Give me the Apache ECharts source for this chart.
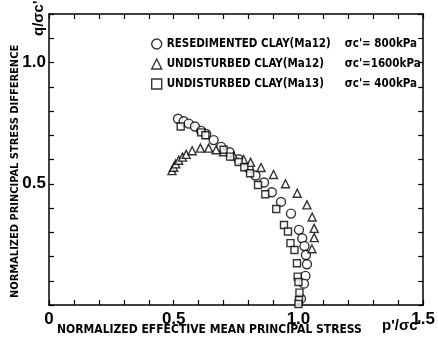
<!DOCTYPE html>
<html>
<head>
<meta charset="utf-8">
<script src="https://cdn.jsdelivr.net/npm/echarts@6/dist/echarts.min.js"></script>
<style>
  html, body { margin: 0; padding: 0; background: #fff; }
  #chart { width: 438px; height: 345px; }
</style>
</head>
<body>
<div id="chart"></div>
<script>
// resedimented clay (Ma12), 800kPa - circles
var resedX = [0.517, 0.540, 0.560, 0.585, 0.610, 0.630, 0.660, 0.690, 0.724, 0.760, 0.800, 0.828, 0.862, 0.893, 0.930, 0.970, 1.002, 1.015, 1.024, 1.030, 1.034, 1.028, 1.022, 1.010];
var resedY = [0.768, 0.758, 0.748, 0.736, 0.718, 0.705, 0.680, 0.652, 0.630, 0.601, 0.565, 0.534, 0.505, 0.465, 0.425, 0.377, 0.310, 0.275, 0.243, 0.206, 0.168, 0.120, 0.088, 0.026];
// undisturbed clay (Ma12), 1600kPa - triangles
var undis12X = [0.493, 0.500, 0.508, 0.520, 0.535, 0.550, 0.574, 0.607, 0.640, 0.670, 0.700, 0.740, 0.780, 0.808, 0.850, 0.900, 0.948, 0.995, 1.034, 1.055, 1.063, 1.063, 1.054];
var undis12Y = [0.554, 0.568, 0.582, 0.597, 0.610, 0.621, 0.636, 0.647, 0.647, 0.640, 0.632, 0.615, 0.600, 0.588, 0.567, 0.538, 0.500, 0.461, 0.413, 0.363, 0.316, 0.278, 0.232];
// undisturbed clay (Ma13), 400kPa - squares
var undis13X = [0.528, 0.610, 0.627, 0.700, 0.726, 0.760, 0.783, 0.806, 0.838, 0.867, 0.911, 0.942, 0.958, 0.968, 0.984, 0.994, 0.997, 1.000, 1.004, 1.002, 1.000];
var undis13Y = [0.736, 0.712, 0.700, 0.640, 0.612, 0.590, 0.568, 0.543, 0.495, 0.457, 0.396, 0.330, 0.303, 0.255, 0.227, 0.172, 0.117, 0.095, 0.051, 0.020, 0.004];

var seriesNames = ['RESEDIMENTED CLAY(Ma12)', 'UNDISTURBED CLAY(Ma12)', 'UNDISTURBED CLAY(Ma13)'];
var pressures = ["σc'= 800kPa", "σc'=1600kPa", "σc'= 400kPa"];

function pairs(xs, ys) {
  var out = [];
  for (var i = 0; i < xs.length; i++) out.push([xs[i], ys[i]]);
  return out;
}

var font = 'Liberation Sans, Arial, sans-serif';
var condensed = '"DejaVu Sans Condensed", "DejaVu Sans", sans-serif';

function axisBase(show) {
  return {
    type: 'value',
    min: 0,
    interval: 0.1,
    axisLine: { show: true, onZero: false, lineStyle: { color: '#000', width: 1.5 } },
    axisTick: { show: true, inside: true, length: 5, lineStyle: { color: '#000', width: 1.2 } },
    splitLine: { show: false },
    axisLabel: { show: show }
  };
}

var xBottom = axisBase(true);
xBottom.max = 1.5;
xBottom.position = 'bottom';
xBottom.axisLabel = {
  show: true, color: '#000', fontFamily: font, fontWeight: 'bold', fontSize: 17, margin: 6,
  formatter: function (v) {
    var r = Math.round(v * 10) / 10;
    if (r === 0) return '0';
    if (Math.abs(r * 2 - Math.round(r * 2)) < 1e-6) return r.toFixed(1);
    return '';
  }
};
var xTop = axisBase(false);
xTop.max = 1.5;
xTop.position = 'top';

var yLeft = axisBase(true);
yLeft.max = 1.2;
yLeft.position = 'left';
yLeft.axisLabel = {
  show: true, color: '#000', fontFamily: font, fontWeight: 'bold', fontSize: 17, margin: 3,
  formatter: function (v) {
    var r = Math.round(v * 10) / 10;
    if (r === 0.5 || r === 1) return r.toFixed(1);
    return '';
  }
};
var yRight = axisBase(false);
yRight.max = 1.2;
yRight.position = 'right';

var symbols = ['circle', 'triangle', 'rect'];
var sizes = [9, 8, 7];
var data = [pairs(resedX, resedY), pairs(undis12X, undis12Y), pairs(undis13X, undis13Y)];

var series = [];
for (var i = 0; i < 3; i++) {
  series.push({
    name: seriesNames[i],
    type: 'scatter',
    xAxisIndex: 0,
    yAxisIndex: 0,
    symbol: symbols[i],
    symbolSize: sizes[i],
    itemStyle: { color: '#fff', borderColor: '#000', borderWidth: 1.4 },
    data: data[i]
  });
}

var option = {
  backgroundColor: '#fff',
  animation: false,
  grid: { left: 49, right: 11, top: 14, bottom: 40 },
  xAxis: [xBottom, xTop],
  yAxis: [yLeft, yRight],
  legend: {
    orient: 'vertical',
    left: 146,
    top: 33,
    itemGap: 8,
    itemWidth: 10,
    itemHeight: 10,
    data: seriesNames.map(function (n, i) {
      return { name: n, icon: i === 0 ? 'circle' : (i === 1 ? 'triangle' : 'rect'),
        itemStyle: { color: '#fff', borderColor: '#000', borderWidth: 1.4 } };
    }),
    formatter: function (n) {
      var idx = seriesNames.indexOf(n);
      return '{a|' + n + '}{b|' + pressures[idx] + '}';
    },
    textStyle: {
      color: '#000',
      rich: {
        a: { width: 178, fontFamily: condensed, fontWeight: 'bold', fontSize: 11.5, color: '#000' },
        b: { fontFamily: condensed, fontWeight: 'bold', fontSize: 11.5, color: '#000' }
      }
    }
  },
  graphic: [
    {
      type: 'text', left: 57, top: 324,
      style: { text: 'NORMALIZED EFFECTIVE MEAN PRINCIPAL STRESS', fill: '#000',
        font: 'bold 12px ' + condensed }
    },
    {
      type: 'text', left: 382, top: 318,
      style: { text: "p'/σc'", fill: '#000', font: 'bold 15px "Liberation Sans", Arial, sans-serif' }
    },
    {
      type: 'text', x: 10, y: 298, rotation: Math.PI / 2,
      style: { text: 'NORMALIZED PRINCIPAL STRESS DIFFERENCE', fill: '#000',
        font: 'bold 11px ' + condensed }
    },
    {
      type: 'text', x: 31, y: 36, rotation: Math.PI / 2,
      style: { text: "q/σc'", fill: '#000', font: 'bold 15px "Liberation Sans", Arial, sans-serif' }
    }
  ],
  series: series
};

var chart = echarts.init(document.getElementById('chart'), null, { renderer: 'canvas' });
chart.setOption(option);
</script>
</body>
</html>
